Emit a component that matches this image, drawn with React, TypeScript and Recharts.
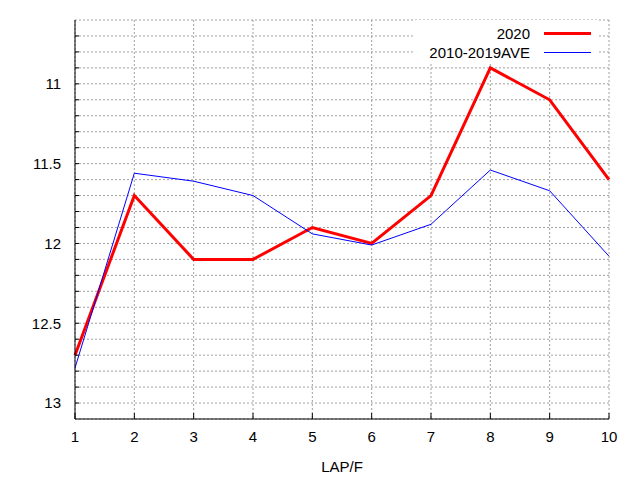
import React from 'react';
import {
    LineChart,
    Line,
    XAxis,
    YAxis,
    CartesianGrid,
    Legend,
} from 'recharts';

// laps and times
const laps = [1, 2, 3, 4, 5, 6, 7, 8, 9, 10];
const time2020 = [12.7, 11.7, 12.1, 12.1, 11.9, 12.0, 11.7, 10.9, 11.1, 11.6];
const timeAve = [12.78, 11.56, 11.61, 11.7, 11.94, 12.01, 11.88, 11.54, 11.67, 12.08];
const seriesNames = ['2020', '2010-2019AVE'];

const majorTicks = [11, 11.5, 12, 12.5, 13];
const minorTicks = [
    10.7, 10.8, 10.9, 11, 11.1, 11.2, 11.3, 11.4, 11.5, 11.6, 11.7, 11.8,
    11.9, 12, 12.1, 12.2, 12.3, 12.4, 12.5, 12.6, 12.7, 12.8, 12.9, 13,
];

const data = laps.map((lap, i) => ({
    lap,
    y2020: time2020[i],
    ave: timeAve[i],
}));

const font = '"Liberation Sans", Arial, sans-serif';

// gnuplot-style key: text right-aligned, sample line on the right
const LegendBox = (props: any) => {
    const items = [...(props.payload || [])].sort(
        (a: any, b: any) => seriesNames.indexOf(a.value) - seriesNames.indexOf(b.value)
    );
    return (
        <svg width={184} height={42} style={{ display: 'block' }}>
            <rect x={0} y={0} width={184} height={42} fill="#fff" />
            {items.map((it: any, i: number) => (
                <g key={i}>
                    <text
                        x={117}
                        y={13 + i * 19 + 5.5}
                        textAnchor="end"
                        fontSize={15}
                        fontFamily={font}
                        fill="#000"
                    >
                        {it.value}
                    </text>
                    <line
                        x1={131}
                        x2={178}
                        y1={13.5 + i * 19}
                        y2={13.5 + i * 19}
                        stroke={it.color}
                        strokeWidth={i === 0 ? 3 : 1}
                    />
                </g>
            ))}
        </svg>
    );
};

const App: React.FC = () => {
    return (
        <div style={{ position: 'absolute', left: 0, top: 0, background: '#fff' }}>
            <LineChart
                width={640}
                height={480}
                data={data}
                margin={{ top: 20, right: 31, left: 0, bottom: 0 }}
                style={{ fontFamily: font }}
            >
                <CartesianGrid stroke="#a0a0a0" strokeDasharray="2 2" />
                <XAxis
                    dataKey="lap"
                    type="number"
                    domain={[1, 10]}
                    ticks={laps}
                    interval={0}
                    height={61}
                    stroke="#000"
                    tickSize={-6}
                    tickMargin={18}
                    tick={{ fill: '#000', fontSize: 15 }}
                    label={{ value: 'LAP/F', position: 'insideBottom', offset: 8, fill: '#000', fontSize: 15 }}
                />
                <XAxis
                    xAxisId="top"
                    orientation="top"
                    dataKey="lap"
                    type="number"
                    domain={[1, 10]}
                    ticks={laps}
                    interval={0}
                    height={0}
                    stroke="#000"
                    tickSize={-6}
                    tick={false}
                />
                <YAxis
                    type="number"
                    domain={[10.6, 13.1]}
                    reversed
                    ticks={minorTicks}
                    interval={0}
                    width={75}
                    stroke="#000"
                    tickSize={-4}
                    tickMargin={18}
                    tickFormatter={(v: number) => (majorTicks.includes(v) ? String(v) : '')}
                    tick={{ fill: '#000', fontSize: 15 }}
                />
                <YAxis
                    yAxisId="right"
                    orientation="right"
                    type="number"
                    domain={[10.6, 13.1]}
                    reversed
                    ticks={minorTicks}
                    interval={0}
                    width={0}
                    stroke="#000"
                    tickSize={-4}
                    tick={false}
                />
                <Legend
                    layout="horizontal"
                    verticalAlign="middle"
                    align="center"
                    content={LegendBox}
                    wrapperStyle={{ position: 'absolute', left: 413, top: 20, width: 184, height: 42 }}
                />
                <Line
                    dataKey="y2020"
                    name={seriesNames[0]}
                    stroke="#ff0000"
                    strokeWidth={3}
                    dot={false}
                    isAnimationActive={false}
                />
                <Line
                    dataKey="ave"
                    name={seriesNames[1]}
                    stroke="#0000ff"
                    strokeWidth={1}
                    dot={false}
                    isAnimationActive={false}
                />
            </LineChart>
        </div>
    );
};

export default App;
